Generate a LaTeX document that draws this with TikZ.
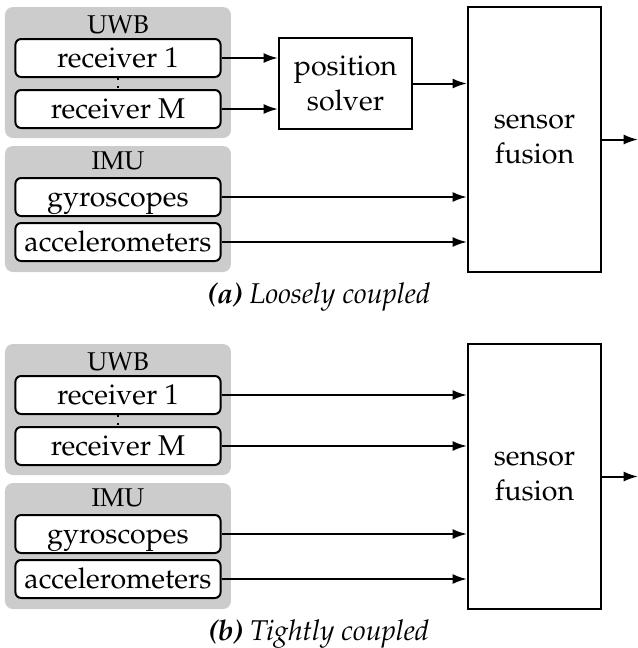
\documentclass[tikz,border=0pt]{standalone}
\usepackage[T1]{fontenc}
\usepackage{mathpazo}
\usetikzlibrary{calc,arrows.meta,positioning}

\tikzset{
    grpbox/.style={fill=gray!40,rounded corners=2.8pt},
    grplabel/.style={font=\small},
    sensbox/.style={draw,line width=0.7pt,rounded corners=2pt,fill=white,
        minimum width=71.8pt,minimum height=13.3pt,inner sep=0pt,
        text height=7pt,text depth=0.6pt},
    procbox/.style={draw,line width=0.7pt,fill=white,inner sep=0pt,
        align=center,minimum width=46.6pt},
    sig/.style={line width=0.7pt,-{Latex[length=5pt,width=3.5pt]}}
}

\begin{document}
\begin{tikzpicture}[x=0.35pt,y=-0.35pt]

\useasboundingbox (0,0) rectangle (638,648);

\foreach \o/\t/\c in
{0/a/{\textbf{(a)} Loosely coupled},
    337/b/{\textbf{(b)} Tightly coupled}
}
{
    \fill[grpbox] (5,7+\o) rectangle (231,138+\o);
    \fill[grpbox] (5,146+\o) rectangle (231,272+\o);
    \node[grplabel] (nUwb\t) at (118,25+\o) {UWB};
    \node[grplabel] (nImu\t) at (118,161+\o) {IMU};
    \node[sensbox] (nRecOne\t) at (118,58+\o) {receiver 1};
    \node[sensbox] (nRecM\t) at (118,109+\o) {receiver M};
    \node[sensbox] (nGyro\t) at (118,197+\o) {gyroscopes};
    \node[sensbox] (nAcc\t) at (118,242+\o) {accelerometers};
    \node[procbox,minimum height=92.8pt] (nFus\t) at (534.5,139.5+\o) {sensor\\fusion};
    \coordinate (cOut\t) at (638,139.5+\o);
    \node (nCap\t) at (319,297+\o) {\itshape\c};

    \draw[line width=0.7pt,dotted] (nRecOne\t.south) -- (nRecM\t.north);
    \draw[sig] (nGyro\t.east) -- (nGyro\t.east -| nFus\t.west);
    \draw[sig] (nAcc\t.east) -- (nAcc\t.east -| nFus\t.west);
    \draw[sig] (nFus\t.east) -- (cOut\t);
};

\node[procbox,minimum height=31.9pt] (nSolv) at (345.5,83.5) {position\\solver};
\draw[sig] (nRecOnea.east) -- (nRecOnea.east -| nSolv.west);
\draw[sig] (nRecMa.east) -- (nRecMa.east -| nSolv.west);
\draw[sig] (nSolv.east) -- (nSolv.east -| nFusa.west);
\draw[sig] (nRecOneb.east) -- (nRecOneb.east -| nFusb.west);
\draw[sig] (nRecMb.east) -- (nRecMb.east -| nFusb.west);

\end{tikzpicture}
\end{document}
